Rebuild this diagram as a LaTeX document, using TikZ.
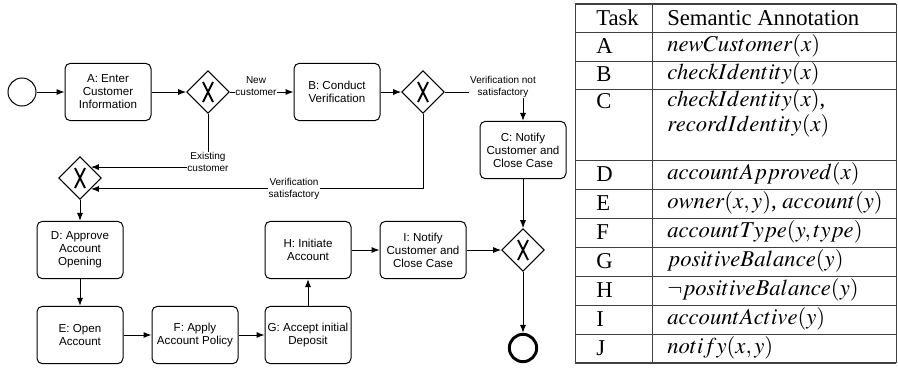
\documentclass[tikz,border=0pt]{standalone}
\usepackage{mathptmx}
\usepackage{fontspec}
\setmainfont{Liberation Serif}
\setsansfont{Liberation Sans}
\usetikzlibrary{arrows.meta,shapes.geometric,calc}

\tikzset{
  flow/.style={line width=0.75pt, -{Latex[length=6pt,width=4.6pt]}},
  task/.style={draw, line width=0.75pt, rounded corners=4pt, minimum width=64.5pt,
    minimum height=43pt, align=center, font=\sffamily\fontsize{8.7}{9.75}\selectfont, inner sep=1pt},
  gate/.style={draw, diamond, line width=0.75pt, minimum width=32pt, minimum height=32pt,
    inner sep=0pt, fill=white},
  startev/.style={draw, circle, line width=0.75pt, minimum size=21pt, inner sep=0pt},
  endev/.style={draw, circle, line width=2.2pt, minimum size=20.5pt, inner sep=0pt},
  flowlabel/.style={fill=white, align=center, inner sep=0.6pt,
    font=\sffamily\fontsize{7.5}{9}\selectfont},
  rule/.style={line width=0.6pt, draw=black!75},
  cell/.style={anchor=west, inner sep=0pt, font=\fontsize{17}{21}\selectfont},
}

% exclusive-gateway marker: a tall X inside the diamond
\newcommand{\xmark}[1]{%
  \draw[line width=1.4pt] ($(#1)+(-5,-10)$) -- ($(#1)+(5,10)$);
  \draw[line width=1.4pt] ($(#1)+(5,-10)$) -- ($(#1)+(-5,10)$);
}

\begin{document}
\begin{tikzpicture}[x=0.75pt, y=-0.75pt]
\useasboundingbox (0,0) rectangle (898,369);

% ---- process model ----
\node[startev] (start) at (22,92) {};
\node[task] (A) at (108,92) {A: Enter\\Customer\\Information};
\node[gate] (g1) at (208,92) {};
\node[task] (B) at (337,92) {B: Conduct\\Verification};
\node[gate] (g2) at (423,92) {};
\node[task] (C) at (523,150) {C: Notify\\Customer and\\Close Case};
\node[gate] (g3) at (80,178) {};
\node[task] (D) at (80,250) {D: Approve\\Account\\Opening};
\node[task] (E) at (80,335) {E: Open\\Account};
\node[task] (F) at (195,335) {F: Apply\\Account Policy};
\node[task] (G) at (308,335) {G: Accept initial\\Deposit};
\node[task] (H) at (308,250) {H: Initiate\\Account};
\node[task] (I) at (423,250) {I: Notify\\Customer and\\Close Case};
\node[gate] (g4) at (523,250) {};
\node[endev] (end) at (523,348) {};

\xmark{g1}
\xmark{g2}
\xmark{g3}
\xmark{g4}

\draw[flow] (start) -- (A);
\draw[flow] (A) -- (g1);
\draw[flow] (g1) -- (B);
\draw[flow] (B) -- (g2);
\draw[flow] (g2.east) -| (C.north);
\draw[flow] (g1.south) |- (g3.north east);
\draw[flow] (g2.south) |- (g3.south east);
\draw[flow] (g3) -- (D);
\draw[flow] (D) -- (E);
\draw[flow] (E) -- (F);
\draw[flow] (F) -- (G);
\draw[flow] (G) -- (H);
\draw[flow] (H) -- (I);
\draw[flow] (I) -- (g4);
\draw[flow] (C) -- (g4);
\draw[flow] (g4) -- (end);

\node[flowlabel] (lnew) at (256,86) {New\\customer};
\node[flowlabel] (lexist) at (208,162) {Existing\\customer};
\node[flowlabel] (lnot) at (503,87) {Verification not\\satisfactory};
\node[flowlabel] (lsat) at (294,189) {Verification\\satisfactory};

% ---- annotation table ----
\draw[rule, line width=0.9pt] (575,4) -- (896,4);
\foreach \yy in {32,61,89,160,189,218,247,276,305,334} {
  \draw[rule] (575,\yy) -- (896,\yy);
}
\draw[rule, line width=0.9pt] (575,363) -- (896,363);
\draw[rule] (575,4) -- (575,363);
\draw[rule] (652,4) -- (652,363);
\draw[rule] (896,4) -- (896,363);

\node[cell] (t0) at (596,18) {Task};
\node[cell] (s0) at (667,18) {Semantic Annotation};
\node[cell] (tA) at (596,46) {A};
\node[cell] (sA) at (667,46) {$newCustomer(x)$};
\node[cell] (tB) at (596,74) {B};
\node[cell] (sB) at (667,74) {$checkIdentity(x)$};
\node[cell] (tC) at (596,101) {C};
\node[cell] (sC) at (667,101) {$checkIdentity(x)$,};
\node[cell] (sC2) at (667,126) {$recordIdentity(x)$};
\node[cell] (tD) at (596,174) {D};
\node[cell] (sD) at (667,174) {$accountApproved(x)$};
\node[cell] (tE) at (596,203) {E};
\node[cell] (sE) at (667,203) {$owner(x,y)$, $account(y)$};
\node[cell] (tF) at (596,232) {F};
\node[cell] (sF) at (667,232) {$accountType(y,type)$};
\node[cell] (tG) at (596,261) {G};
\node[cell] (sG) at (667,261) {$positiveBalance(y)$};
\node[cell] (tH) at (596,290) {H};
\node[cell] (sH) at (667,290) {$\neg positiveBalance(y)$};
\node[cell] (tI) at (596,319) {I};
\node[cell] (sI) at (667,319) {$accountActive(y)$};
\node[cell] (tJ) at (596,348) {J};
\node[cell] (sJ) at (667,348) {$notify(x,y)$};
\end{tikzpicture}
\end{document}
